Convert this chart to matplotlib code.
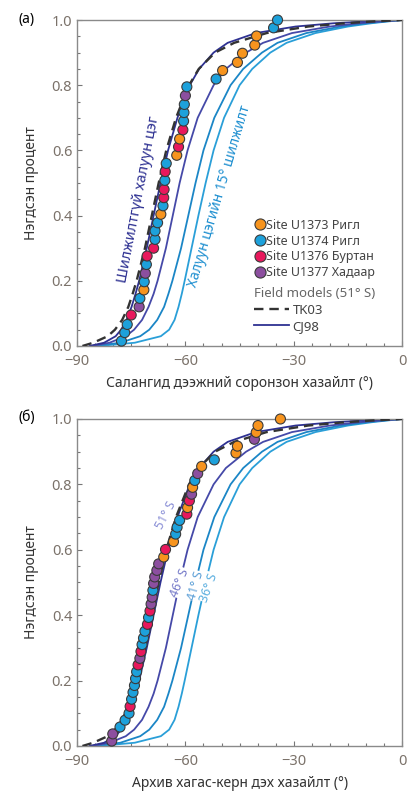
import matplotlib.pyplot as plt
from matplotlib.lines import Line2D
from matplotlib.ticker import MultipleLocator

# --- site colours ---
site_colors = {"3": "#F7941E", "4": "#1DA1DB", "6": "#E8185C", "7": "#8C4F9F"}
site_labels = {"3": "Site U1373 Ригл", "4": "Site U1374 Ригл",
               "6": "Site U1376 Буртан", "7": "Site U1377 Хадаар"}

# --- (a) individual sample inclinations ---
top_incl = [-77.7, -76.8, -76.1, -75.0, -72.8, -72.6, -71.5, -71.4, -71.1, -70.8,
            -70.6, -68.8, -68.4, -68.4, -67.7, -66.8, -66.2, -66.0, -65.9, -65.7,
            -65.6, -65.3, -62.4, -61.9, -61.6, -60.7, -60.5, -60.4, -60.3, -60.0,
            -59.6, -51.5, -49.7, -45.6, -44.2, -40.8, -40.3, -35.6, -34.5]
top_cum = [0.015, 0.041, 0.066, 0.095, 0.12, 0.146, 0.172, 0.197, 0.223, 0.25,
           0.276, 0.30, 0.327, 0.353, 0.378, 0.404, 0.43, 0.455, 0.48, 0.508,
           0.535, 0.56, 0.585, 0.611, 0.635, 0.663, 0.69, 0.716, 0.741, 0.768,
           0.795, 0.819, 0.845, 0.87, 0.898, 0.923, 0.951, 0.976, 1.0]
top_site = ["4", "4", "4", "6", "7", "4", "3", "4", "7", "4",
            "6", "6", "4", "4", "4", "3", "4", "6", "6", "4",
            "6", "4", "3", "6", "3", "6", "4", "4", "4", "7",
            "4", "4", "3", "3", "3", "3", "3", "4", "4"]

# --- (б) archive half-core inclinations ---
bot_incl = [-80.4, -80.1, -78.1, -76.7, -75.6, -75.3, -74.9, -74.5, -74.1, -73.8,
            -73.5, -73.1, -72.6, -72.3, -72.0, -71.6, -71.2, -70.5, -70.2, -69.8,
            -69.5, -69.2, -69.0, -68.8, -68.5, -67.9, -67.4, -66.0, -65.5, -63.3,
            -62.7, -62.3, -61.6, -59.6, -59.4, -58.9, -58.3, -58.0, -57.4, -56.6,
            -55.5, -52.0, -46.0, -45.6, -40.9, -40.4, -39.9, -33.7]
bot_cum = [0.015, 0.037, 0.058, 0.079, 0.10, 0.121, 0.143, 0.164, 0.185, 0.206,
           0.227, 0.248, 0.268, 0.289, 0.31, 0.33, 0.351, 0.372, 0.393, 0.413,
           0.434, 0.455, 0.476, 0.497, 0.517, 0.537, 0.557, 0.578, 0.601, 0.625,
           0.648, 0.669, 0.69, 0.709, 0.729, 0.75, 0.77, 0.791, 0.812, 0.833,
           0.855, 0.875, 0.896, 0.917, 0.938, 0.959, 0.98, 1.0]
bot_site = ["7", "7", "4", "4", "4", "6", "4", "4", "4", "4",
            "4", "6", "7", "6", "4", "4", "4", "6", "4", "6",
            "7", "7", "4", "7", "7", "7", "7", "3", "6", "3",
            "4", "4", "4", "6", "3", "6", "7", "3", "4", "7",
            "3", "4", "3", "3", "7", "3", "3", "3"]

# --- field model curves (cumulative fraction vs inclination) ---
curve_frac = [0, 0.01, 0.03, 0.05, 0.08, 0.12, 0.16, 0.2, 0.3, 0.4, 0.5,
              0.6, 0.7, 0.8, 0.85, 0.9, 0.93, 0.96, 0.98, 0.99, 0.995, 1.0]
tk03 = [-88.5, -85.5, -81.5, -79.5, -77.5, -75.8, -74.6, -73.5, -71.2, -69.3, -67.4,
        -65.3, -62.6, -59.0, -56.3, -51.8, -46.5, -37.5, -26.0, -16.0, -9.0, 0]
cj51 = [-86.5, -82.5, -79.3, -77.8, -76.3, -74.9, -73.8, -72.8, -70.7, -68.8, -66.9,
        -64.8, -62.2, -58.8, -56.2, -52.2, -48.3, -40.5, -29.5, -19.0, -11.0, 0]
cj46 = [-86.0, -81.0, -76.5, -74.2, -72.0, -70.2, -68.8, -67.7, -65.4, -63.5, -61.6,
        -59.4, -56.6, -52.2, -48.8, -43.2, -38.5, -30.5, -20.0, -12.0, -6.5, 0]
cj41 = [-85.0, -78.0, -72.5, -70.0, -67.8, -65.9, -64.7, -63.6, -61.2, -59.2, -57.2,
        -55.0, -52.0, -47.5, -44.0, -38.8, -34.5, -26.5, -17.0, -10.0, -5.5, 0]
cj36 = [-84.0, -74.0, -66.8, -64.5, -63.0, -61.9, -61.0, -60.2, -58.3, -56.4, -54.4,
        -52.2, -49.3, -45.0, -41.5, -36.5, -32.0, -24.0, -15.0, -8.5, -4.5, 0]

c_tk = "#333333"
c51 = "#2E3192"
c46 = "#4549A8"
c41 = "#1B86C6"
c36 = "#2A9FD8"
tick_col = "#7B726A"

plt.rcParams["font.family"] = ["Noto Sans", "DejaVu Sans"]

fig = plt.figure(figsize=(4.09, 7.91), dpi=100)
ax1 = fig.add_axes([0.1883, 0.5626, 0.795, 0.4121])
ax2 = fig.add_axes([0.1883, 0.0569, 0.795, 0.4134])


def draw_panel(ax, incl, cum, sites):
    ax.plot(cj36, curve_frac, color=c36, lw=1.3, zorder=2)
    ax.plot(cj41, curve_frac, color=c41, lw=1.3, zorder=2)
    ax.plot(cj46, curve_frac, color=c46, lw=1.3, zorder=2)
    ax.plot(cj51, curve_frac, color=c51, lw=1.3, zorder=2)
    ax.plot(tk03, curve_frac, color=c_tk, lw=1.7, ls=(0, (4, 2.5)), zorder=3)
    cols = [site_colors[s] for s in sites]
    ax.scatter(incl, cum, s=52, c=cols, edgecolors="#3A3A3A", linewidths=0.8,
               zorder=5, clip_on=False)

    ax.set_xlim(-90, 0)
    ax.set_ylim(0, 1)
    ax.set_xticks([-90, -60, -30, 0])
    ax.set_xticklabels(["\u221290", "\u221260", "\u221230", "0"])
    ax.set_yticks([0, 0.2, 0.4, 0.6, 0.8, 1.0])
    ax.set_yticklabels(["0.0", "0.2", "0.4", "0.6", "0.8", "1.0"])
    ax.xaxis.set_minor_locator(MultipleLocator(5))
    ax.yaxis.set_minor_locator(MultipleLocator(0.05))
    ax.tick_params(which="both", direction="in", colors="#777777",
                   labelcolor=tick_col, labelsize=10.5)
    ax.tick_params(which="major", length=3.5, width=0.8)
    ax.tick_params(which="minor", length=2.2, width=0.8)
    ax.tick_params(axis="x", pad=6)
    for sp in ax.spines.values():
        sp.set_color("#8A8A8A")
        sp.set_linewidth(1.0)
    ax.set_ylabel("Нэгдсэн процент", fontsize=10, color="#333333", labelpad=9)


draw_panel(ax1, top_incl, top_cum, top_site)
draw_panel(ax2, bot_incl, bot_cum, bot_site)

ax1.set_xlabel("Салангид дээжний соронзон хазайлт (°)", fontsize=10,
               color="#333333", labelpad=5)
ax2.set_xlabel("Архив хагас-керн дэх хазайлт (°)", fontsize=10,
               color="#333333", labelpad=5)

# panel (a) annotations
ax1.text(-72.8, 0.45, "Шилжилтгүй халуун цэг", color=c51, fontsize=10.5,
         rotation=79, ha="center", va="center", zorder=4)
ax1.text(-50.5, 0.46, "Халуун цэгийн 15° шилжилт", color="#1E8FD0", fontsize=10,
         rotation=73.5, ha="center", va="center", zorder=4,
         bbox=dict(facecolor="white", edgecolor="none", pad=0.5))

# panel (б) latitude labels
lab_kw = dict(fontsize=9, ha="center", va="center", zorder=4)
ax2.text(-65.5, 0.705, "51° S", color="#8A8FD6", rotation=62, **lab_kw)
ax2.text(-61.6, 0.50, "46° S", color="#7479C8", rotation=67,
         bbox=dict(facecolor="white", edgecolor="none", pad=0.3), **lab_kw)
ax2.text(-57.2, 0.49, "41° S", color="#5A9ED6", rotation=74,
         bbox=dict(facecolor="white", edgecolor="none", pad=0.3), **lab_kw)
ax2.text(-53.6, 0.485, "36° S", color="#5AAEDF", rotation=70,
         bbox=dict(facecolor="white", edgecolor="none", pad=0.3), **lab_kw)

# legends in panel (a)
site_handles = [Line2D([], [], ls="none", marker="o", markersize=8,
                       markerfacecolor=site_colors[k], markeredgecolor="#3A3A3A",
                       markeredgewidth=0.8) for k in ["3", "4", "6", "7"]]
leg1 = ax1.legend(site_handles, [site_labels[k] for k in ["3", "4", "6", "7"]],
                  loc="upper left", bbox_to_anchor=(0.55, 0.39), frameon=False,
                  fontsize=9, handlelength=0.6, handletextpad=0.25,
                  labelspacing=0.22, borderpad=0, borderaxespad=0,
                  labelcolor="#444444")
ax1.add_artist(leg1)
model_handles = [Line2D([], [], color=c_tk, lw=1.7, ls=(0, (4, 2.5))),
                 Line2D([], [], color=c51, lw=1.3)]
leg2 = ax1.legend(model_handles, ["TK03", "CJ98"], loc="upper left",
                  bbox_to_anchor=(0.545, 0.18), frameon=False, fontsize=9.5,
                  handlelength=2.6, handletextpad=0.3, labelspacing=0.25,
                  borderpad=0, borderaxespad=0, title="Field models (51° S)",
                  title_fontsize=9.5, alignment="left", labelcolor="#444444")
leg2.get_title().set_color("#666666")

fig.text(0.045, 0.975, "(a)", fontsize=10, fontweight="bold", va="center")
fig.text(0.045, 0.472, "(б)", fontsize=10, va="center")

fig.savefig("out.png", dpi=100)
